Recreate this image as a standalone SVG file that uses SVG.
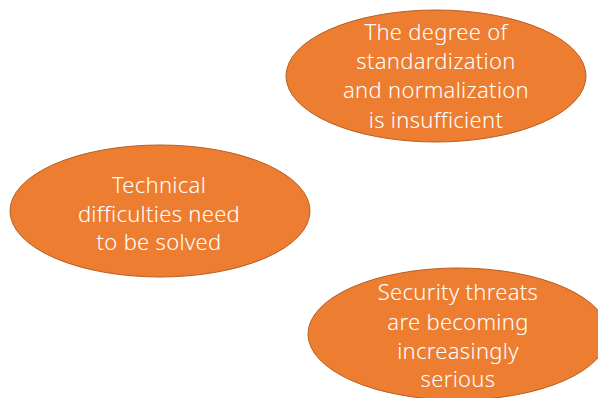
<svg xmlns="http://www.w3.org/2000/svg" width="598" height="398" viewBox="0 0 598 398">
<style>
.n{fill:#ED7D31;stroke:#B85F22;stroke-width:1}
.t{fill:#FFFFFF;font-family:"Noto Sans","Liberation Sans",sans-serif;font-weight:300;font-size:22px;letter-spacing:0.3px;text-anchor:middle}
</style>
<rect width="598" height="398" fill="#FFFFFF"/>
<g id="node-standardization">
<ellipse class="n" cx="436" cy="76" rx="150" ry="66"/>
<text class="t"><tspan x="436" y="40">The degree of</tspan><tspan x="436" y="69">standardization</tspan><tspan x="436" y="98">and normalization</tspan><tspan x="436" y="128">is insufficient</tspan></text>
</g>
<g id="node-technical">
<ellipse class="n" cx="160" cy="211" rx="150" ry="66"/>
<text class="t"><tspan x="159" y="193">Technical</tspan><tspan x="159" y="222">difficulties need</tspan><tspan x="159" y="250">to be solved</tspan></text>
</g>
<g id="node-security">
<ellipse class="n" cx="458" cy="334" rx="150" ry="66"/>
<text class="t"><tspan x="458" y="300">Security threats</tspan><tspan x="458" y="330">are becoming</tspan><tspan x="458" y="359">increasingly</tspan><tspan x="458" y="387">serious</tspan></text>
</g>
<g id="connectors"></g>
</svg>
